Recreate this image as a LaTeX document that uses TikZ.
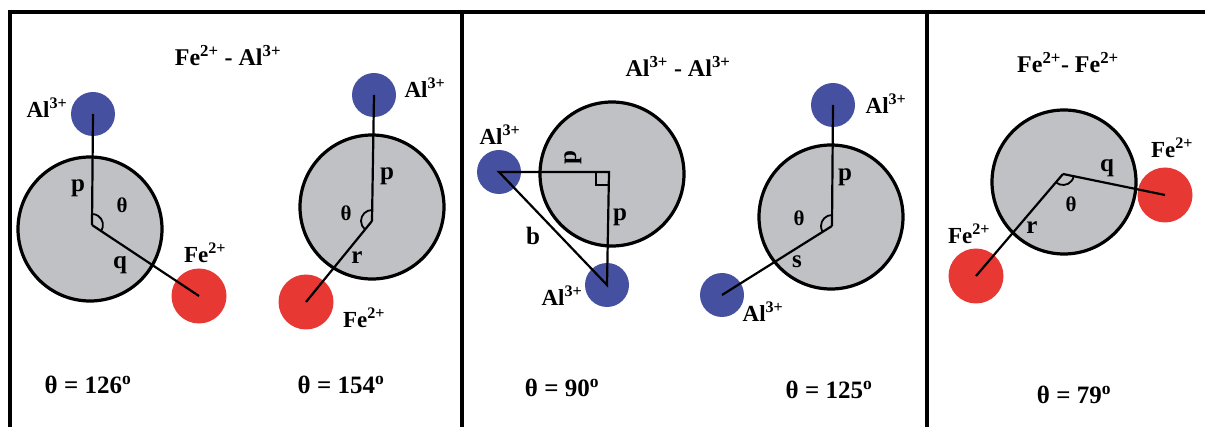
\documentclass[tikz,border=0pt]{standalone}
\usepackage{fontspec}
\setmainfont{Liberation Serif}
\definecolor{HostGray}{RGB}{192,193,196}
\definecolor{AlBlue}{RGB}{70,80,160}
\definecolor{FeRed}{RGB}{232,56,52}
\usetikzlibrary{angles}

\begin{document}
\begin{tikzpicture}[
                x=1pt, y=-1pt,
                host/.style={circle, draw=black, line width=3.2pt, fill=HostGray, minimum size=144pt, inner sep=0pt},
                alion/.style={circle, fill=AlBlue, minimum size=44pt, inner sep=0pt},
                feion/.style={circle, fill=FeRed, minimum size=55pt, inner sep=0pt},
                bond/.style={line width=2.2pt, draw=black},
                frame/.style={line width=3.5pt, draw=black},
                anglemark/.style={draw, line width=1.8pt, angle radius=11pt},
                title/.style={font=\fontsize{24}{24}\selectfont\bfseries, inner sep=0pt},
                ionlbl/.style={font=\fontsize{23}{23}\selectfont\bfseries, inner sep=0pt},
                sym/.style={font=\fontsize{25}{25}\selectfont\bfseries, inner sep=0pt},
                thlbl/.style={font=\fontsize{21}{21}\selectfont\bfseries, inner sep=0pt},
                eqn/.style={font=\fontsize{25}{25}\selectfont\bfseries, inner sep=0pt}
            ]
                \useasboundingbox (0,0) rectangle (1205,427);
                \draw [frame] (10,427) -- (10,12) -- (1205,12);
                \draw [frame] (462,12) -- (462,427);
                \draw [frame] (927,12) -- (927,427);

                \node (t1) [title] at (228,56) {Fe\textsuperscript{2+} - Al\textsuperscript{3+}};
                \node (t2) [title] at (678,66) {Al\textsuperscript{3+} - Al\textsuperscript{3+}};
                \node (t3) [title] at (1068,63) {Fe\textsuperscript{2+}- Fe\textsuperscript{2+}};

                \node (h1) [host] at (90,229) {};
                \node (h2) [host] at (372,207) {};
                \node (h3) [host] at (612,174) {};
                \node (h4) [host] at (831,217) {};
                \node (h5) [host] at (1064,182) {};

                \node (a1) [alion] at (93,114) {};
                \node (f1) [feion] at (199,296) {};
                \node (a2) [alion] at (374,95) {};
                \node (f2) [feion] at (306,302) {};
                \node (a3) [alion] at (499,172) {};
                \node (b3) [alion] at (607,285) {};
                \node (a4) [alion] at (833,105) {};
                \node (b4) [alion] at (722,295) {};
                \node (f5) [feion] at (976,276) {};
                \node (g5) [feion] at (1165,195) {};

                \coordinate (v1) at (92,225);
                \coordinate (v2) at (372,221);
                \coordinate (v3) at (609,172);
                \coordinate (v4) at (832,226);
                \coordinate (v5) at (1063,174);

                \draw [bond] (v1) -- (a1.center);
                \draw [bond] (v1) -- (f1.center);
                \draw [bond] (v2) -- (a2.center);
                \draw [bond] (v2) -- (f2.center);
                \draw [bond] (a3.center) -- (v3) -- (b3.center) -- cycle;
                \draw [bond] (v4) -- (a4.center);
                \draw [bond] (v4) -- (b4.center);
                \draw [bond] (v5) -- (f5.center);
                \draw [bond] (v5) -- (g5.center);

                \pic [anglemark] {angle = f1--v1--a1};
                \pic [anglemark] {angle = a2--v2--f2};
                \draw [line width=1.8pt] (v3) ++(-13,0) -- ++(0,13) -- ++(13,0);
                \pic [anglemark] {angle = a4--v4--b4};
                \pic [anglemark] {angle = f5--v5--g5};

                \node (la1) [ionlbl] at (47,108) {Al\textsuperscript{3+}};
                \node (lp1) [sym] at (78,188) {p};
                \node (lt1) [thlbl] at (122,205) {θ};
                \node (lq1) [sym] at (120,265) {q};
                \node (lf1) [ionlbl] at (205,253) {Fe\textsuperscript{2+}};
                \node (e1) [eqn] at (88,385) {θ = 126\textsuperscript{o}};

                \node (la2) [ionlbl] at (425,88) {Al\textsuperscript{3+}};
                \node (lp2) [sym] at (387,176) {p};
                \node (lt2) [thlbl] at (346,213) {θ};
                \node (lr2) [sym] at (357,258) {r};
                \node (lf2) [ionlbl] at (364,318) {Fe\textsuperscript{2+}};
                \node (e2) [eqn] at (341,385) {θ = 154\textsuperscript{o}};

                \node (la3) [ionlbl] at (500,135) {Al\textsuperscript{3+}};
                \node (lb3) [ionlbl] at (562,296) {Al\textsuperscript{3+}};
                \node (lp3) [sym, rotate=90] at (573,158) {p};
                \node (lq3) [sym] at (620,217) {p};
                \node (lh3) [sym] at (533,236) {b};
                \node (e3) [eqn] at (562,388) {θ = 90\textsuperscript{o}};

                \node (la4) [ionlbl] at (886,104) {Al\textsuperscript{3+}};
                \node (lp4) [sym] at (845,177) {p};
                \node (lt4) [thlbl] at (799,218) {θ};
                \node (ls4) [sym] at (797,262) {s};
                \node (lb4) [ionlbl] at (763,312) {Al\textsuperscript{3+}};
                \node (e4) [eqn] at (829,390) {θ = 125\textsuperscript{o}};

                \node (lg5) [ionlbl] at (1172,148) {Fe\textsuperscript{2+}};
                \node (lq5) [sym] at (1107,168) {q};
                \node (lt5) [thlbl] at (1071,204) {θ};
                \node (lr5) [sym] at (1032,228) {r};
                \node (lf5) [ionlbl] at (969,234) {Fe\textsuperscript{2+}};
                \node (e5) [eqn] at (1074,395) {θ = 79\textsuperscript{o}};
            \end{tikzpicture}
\end{document}
